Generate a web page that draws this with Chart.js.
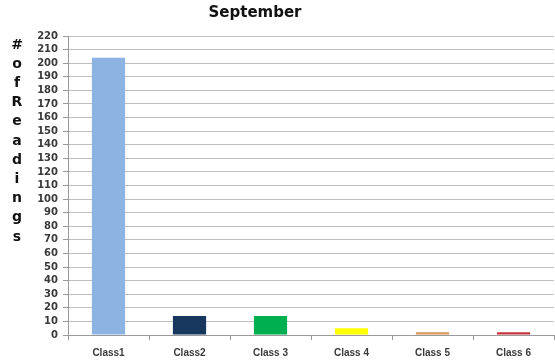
<!DOCTYPE html>
<html>
<head>
<meta charset="utf-8">
<script src="https://cdn.jsdelivr.net/npm/chart.js@4/dist/chart.umd.min.js"></script>
<style>
  html, body { margin: 0; padding: 0; background: #fff; }
  #wrap { width: 555px; height: 362px; position: relative; }
</style>
</head>
<body>
<div id="wrap"><canvas id="readingsChart"></canvas></div>
<script>
// Relevés de septembre par classe
const classes = ['Class1', 'Class2', 'Class 3', 'Class 4', 'Class 5', 'Class 6'];
const lectures = [204, 14, 14, 5, 2, 2];
const couleurs = ['#8db3e2', '#17375e', '#00b050', '#ffff00', '#d99558', '#c8323c'];
const titreGraphique = 'September';
const titreAxeY = '# of Readings';

// Titre et libellé vertical (lettres empilées) dessinés à la main
const textesPlugin = {
    id: 'textes',
    afterDraw(chart) {
        const ctx = chart.ctx;
        ctx.save();
        ctx.fillStyle = '#111';
        ctx.textAlign = 'center';
        ctx.textBaseline = 'middle';
        ctx.font = 'bold 15px "DejaVu Sans", Verdana, sans-serif';
        ctx.fillText(titreGraphique, 255, 13);

        const lettres = titreAxeY.replace(/ /g, '').split('');
        ctx.font = 'bold 14px "DejaVu Sans", Verdana, sans-serif';
        lettres.forEach((l, i) => {
            ctx.fillText(l, 17, 45 + i * 19.2);
        });
        ctx.restore();
    }
};

function afficherGraphique() {
    const ctx = document.getElementById('readingsChart').getContext('2d');
    window.readingsChart = new Chart(ctx, {
        type: 'bar',
        data: {
            labels: classes,
            datasets: [ {
                data: lectures,
                backgroundColor: couleurs,
                borderWidth: 0,
                barPercentage: 0.41,
                categoryPercentage: 1
            } ]
        },
        options: {
            responsive: true,
            maintainAspectRatio: false,
            animation: false,
            layout: { padding: { top: 36, right: 1, left: 0, bottom: 0 } },
            plugins: {
                legend: { display: false },
                tooltip: { enabled: false }
            },
            scales: {
                x: {
                    afterFit: scale => { scale.height = 27; },
                    grid: {
                        offset: true,
                        drawOnChartArea: false,
                        tickLength: 5,
                        tickColor: '#999'
                    },
                    border: { color: '#999' },
                    ticks: {
                        color: '#3a3a3a',
                        padding: 7,
                        font: { family: '"Liberation Sans", Arial, sans-serif', size: 10, weight: 'bold' }
                    }
                },
                y: {
                    min: 0,
                    max: 220,
                    afterFit: scale => { scale.width = 68; },
                    grid: {
                        color: '#c0c0c0',
                        tickLength: 5,
                        tickColor: '#999'
                    },
                    border: { color: '#999' },
                    ticks: {
                        stepSize: 10,
                        autoSkip: false,
                        color: '#3a3a3a',
                        padding: 5,
                        font: { family: '"DejaVu Sans", Verdana, sans-serif', size: 10, weight: 'bold' }
                    }
                }
            }
        },
        plugins: [textesPlugin]
    });
}
document.addEventListener('DOMContentLoaded', afficherGraphique);
</script>
</body>
</html>
